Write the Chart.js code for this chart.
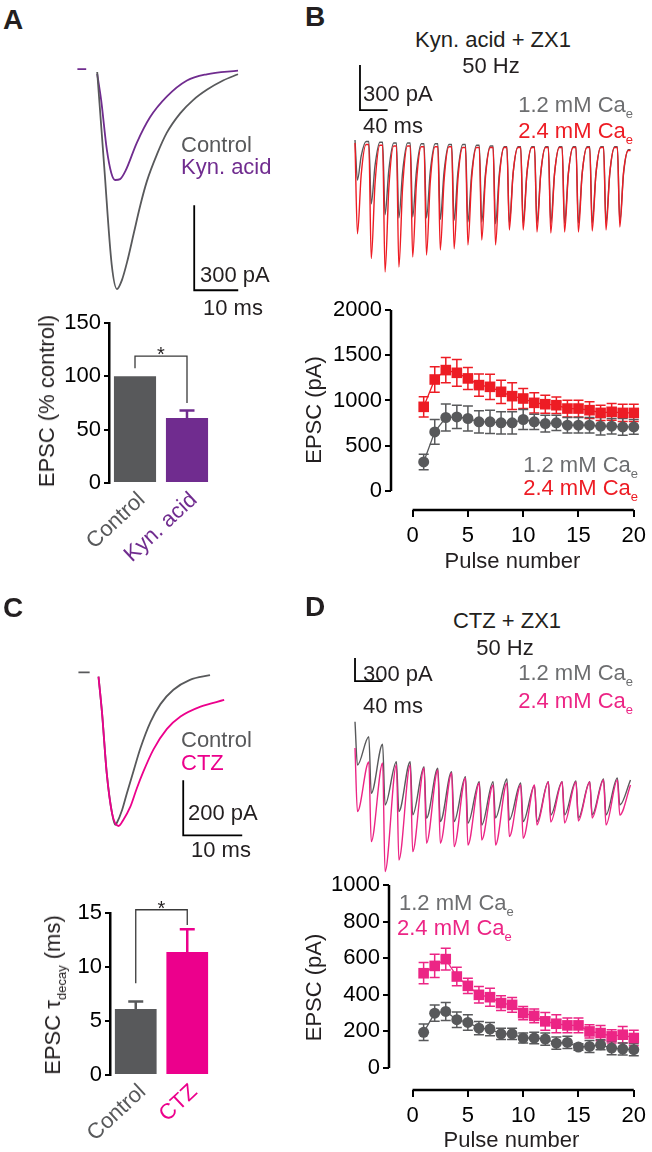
<!DOCTYPE html>
<html>
<head>
<meta charset="utf-8">
<script src="https://cdn.jsdelivr.net/npm/chart.js@4.4.1/dist/chart.umd.min.js"></script>
<style>
  body { margin: 0; width: 652px; height: 1152px; background: #fff; position: relative; overflow: hidden;
         font-family: "Liberation Sans", Arial, Helvetica, sans-serif; color: #231f20; }
  canvas { position: absolute; }
  .t { position: absolute; font-size: 22px; line-height: 22px; white-space: nowrap; }
  .big { font-size: 28px; line-height: 28px; font-weight: bold; }
  .c { transform: translateX(-50%); }
  .rot { position: absolute; font-size: 22px; line-height: 22px; white-space: nowrap; transform: translate(-50%, -50%) rotate(-90deg); }
  sub { font-size: 13px; vertical-align: -6px; line-height: 0; }
  .gray { color: #6d6e70; }
  .dk { color: #58595b; }
  .red { color: #ed1c24; }
  .pur { color: #702c8f; }
  .pink { color: #ec008c; }
  .pink2 { color: #ec2585; }
</style>
</head>
<body>

<canvas id="aTr" width="198" height="265" style="left:62px;top:55px"></canvas>
<canvas id="aBar" width="300" height="300" style="left:0px;top:300px"></canvas>
<canvas id="bTr" width="300" height="235" style="left:345px;top:55px"></canvas>
<canvas id="bPlot" width="352" height="290" style="left:300px;top:290px"></canvas>
<canvas id="cTr" width="177" height="182" style="left:69px;top:660px"></canvas>
<canvas id="cBar" width="300" height="272" style="left:0px;top:880px"></canvas>
<canvas id="dTr" width="300" height="230" style="left:345px;top:650px"></canvas>
<canvas id="dPlot" width="352" height="287" style="left:300px;top:865px"></canvas>

<!-- panel A -->
<div class="t big" style="left:3px;top:6px">A</div>
<div class="t dk" style="left:181px;top:134px">Control</div>
<div class="t pur" style="left:181px;top:156px">Kyn. acid</div>
<div class="t" style="left:200px;top:264px">300 pA</div>
<div class="t" style="left:203px;top:297px">10 ms</div>
<div class="rot" style="left:47px;top:401px">EPSC (% control)</div>

<!-- panel B -->
<div class="t big" style="left:305px;top:3px">B</div>
<div class="t c" style="left:493px;top:29px">Kyn. acid + ZX1</div>
<div class="t c" style="left:491px;top:55px">50 Hz</div>
<div class="t" style="left:363px;top:83px">300 pA</div>
<div class="t" style="left:363px;top:115px">40 ms</div>
<div class="t gray" style="right:19px;top:94px">1.2 mM Ca<sub>e</sub></div>
<div class="t red" style="right:19px;top:120px">2.4 mM Ca<sub>e</sub></div>
<div class="t gray" style="right:14px;top:454px">1.2 mM Ca<sub>e</sub></div>
<div class="t red" style="right:14px;top:477px">2.4 mM Ca<sub>e</sub></div>

<!-- panel C -->
<div class="t big" style="left:3px;top:594px">C</div>
<div class="t dk" style="left:181px;top:729px">Control</div>
<div class="t pink" style="left:181px;top:752px">CTZ</div>
<div class="t" style="left:188px;top:802px">200 pA</div>
<div class="t" style="left:191px;top:839px">10 ms</div>
<div class="rot" style="left:53px;top:995px">EPSC &tau;<sub>decay</sub> (ms)</div>

<!-- panel D -->
<div class="t big" style="left:305px;top:593px">D</div>
<div class="t c" style="left:507px;top:610px">CTZ + ZX1</div>
<div class="t c" style="left:505px;top:637px">50 Hz</div>
<div class="t" style="left:363px;top:663px">300 pA</div>
<div class="t" style="left:363px;top:695px">40 ms</div>
<div class="t gray" style="right:19px;top:662px">1.2 mM Ca<sub>e</sub></div>
<div class="t pink2" style="right:19px;top:690px">2.4 mM Ca<sub>e</sub></div>
<div class="t gray" style="left:399px;top:892px">1.2 mM Ca<sub>e</sub></div>
<div class="t pink2" style="left:397px;top:917px">2.4 mM Ca<sub>e</sub></div>

<script>
// ---- panel A : single EPSC traces (ms, pA) ----
const aCtrlT = [0, 1.6, 3.3, 4.5, 5.6, 6.8, 8.3, 9.8, 11.3, 13.6, 15.8, 18.9, 21.8, 25, 28.6, 32];
const aCtrlI = [0, -335, -680, -766, -735, -670, -570, -470, -385, -290, -215, -145, -99, -62, -30, -8];
const aKynT = [-4.5, -2.5, -2.4, 0, 0.9, 2.2, 3.2, 4.1, 5.2, 6.4, 9, 12, 15.8, 20.4, 24.9, 32];
const aKynI = [10, 10, null, -7, -99, -275, -356, -381, -378, -350, -250, -160, -87, -30, -8, 5];

// ---- panel A : bars ----
const aCats = ['Control', 'Kyn. acid'];
const aMean = [100, 61];
const aSem = [0, 7];
const aTicks = [0, 50, 100, 150];

// ---- panel B : 50 Hz trains, level before each pulse, trough, partial recovery (pA) ----
const bGrayPeak = [0, -10, -15, -20, -20, -25, -25, -30, -30, -35, -40, -45, -45, -45, -45, -45, -45, -45, -45, -45];
const bGrayTrough = [-267, -425, -498, -520, -513, -520, -529, -535, -547, -547, -558, -553, -553, -553, -553, -553, -553, -553, -553, -547];
const bGrayMid = [-105, -170, -200, -210, -205, -210, -212, -215, -220, -220, -225, -222, -222, -222, -222, -222, -222, -222, -222, -220];
const bGrayEnd = -65;
const bRedPeak = [-20, -30, -35, -40, -40, -45, -45, -45, -50, -50, -50, -50, -50, -50, -50, -50, -50, -50, -50, -50];
const bRedTrough = [-625, -791, -880, -847, -780, -767, -733, -725, -700, -667, -700, -600, -600, -613, -620, -613, -613, -607, -600, -580];
const bRedMid = [-230, -290, -320, -310, -285, -280, -270, -265, -255, -245, -255, -220, -220, -225, -225, -225, -225, -222, -220, -212];
const bRedEnd = -70;

// ---- panel B : EPSC vs pulse number ----
const pulses = [1, 2, 3, 4, 5, 6, 7, 8, 9, 10, 11, 12, 13, 14, 15, 16, 17, 18, 19, 20];
const pulseTicks = [0, 5, 10, 15, 20];
const bLow = [321, 653, 812, 819, 801, 764, 764, 753, 753, 790, 764, 745, 753, 727, 727, 727, 716, 716, 708, 708];
const bLowErr = [85, 137, 148, 129, 137, 122, 129, 122, 122, 111, 85, 92, 85, 85, 85, 85, 96, 85, 92, 81];
const bHigh = [930, 1232, 1336, 1306, 1244, 1170, 1151, 1096, 1048, 1022, 974, 959, 948, 911, 911, 893, 863, 875, 863, 863];
const bHighErr = [111, 140, 140, 148, 122, 122, 140, 129, 148, 111, 111, 100, 92, 92, 92, 92, 85, 92, 96, 96];
const bTicks = [0, 500, 1000, 1500, 2000];

// ---- panel C : traces ----
const cCtrlT = [-3.4, -1.5, -1.4, 0, 0.6, 1.4, 2.3, 2.85, 3.1, 4, 4.8, 5.9, 7.1, 8.8, 10.5, 12.7, 15.5, 18.9];
const cCtrlI = [15, 15, null, 0, -132, -351, -496, -538, -531, -484, -424, -345, -260, -165, -100, -48, -12, 5];
const cCtzT = [0, 0.6, 1.4, 2.3, 3.4, 4.2, 5.4, 6.5, 7.6, 9.3, 11.6, 13.9, 17.3, 21.3];
const cCtzI = [0, -132, -351, -496, -542, -520, -472, -405, -345, -265, -190, -145, -109, -85];

// ---- panel C : bars ----
const cCats = ['Control', 'CTZ'];
const cMean = [6.1, 11.4];
const cSem = [0.7, 2.1];
const cTicks = [0, 5, 10, 15];

// ---- panel D : trains ----
const dGrayPeak = [0, -196, -295, -522, -522, -587, -608, -652, -717, -782, -782, -747, -799, -834, -782, -782, -773, -782, -747, -734];
const dGrayTrough = [-565, -934, -1086, -1173, -1216, -1259, -1304, -1304, -1325, -1347, -1256, -1282, -1304, -1304, -1217, -1217, -1256, -1217, -1217, -1086];
const dGrayEnd = -760;
const dPinkPeak = [-343, -525, -538, -564, -564, -604, -630, -669, -734, -799, -825, -799, -825, -825, -786, -786, -786, -786, -760, -760];
const dPinkTrough = [-1173, -1565, -1956, -1804, -1695, -1585, -1585, -1630, -1608, -1543, -1608, -1499, -1521, -1347, -1308, -1321, -1295, -1256, -1347, -1217];
const dPinkEnd = -825;

// ---- panel D : EPSC vs pulse number ----
const dLow = [195, 300, 309, 264, 249, 218, 213, 187, 187, 164, 164, 158, 136, 140, 115, 118, 127, 109, 104, 100];
const dLowErr = [45, 45, 49, 42, 42, 36, 36, 31, 31, 27, 31, 33, 33, 33, 18, 33, 27, 36, 33, 33];
const dHigh = [518, 558, 595, 500, 449, 400, 387, 355, 345, 300, 285, 255, 242, 233, 233, 200, 191, 173, 182, 164];
const dHighErr = [58, 64, 60, 51, 42, 45, 49, 40, 40, 36, 38, 49, 49, 40, 40, 36, 42, 36, 45, 42];
const dTicks = [0, 200, 400, 600, 800, 1000];

const DARK = '#58595b';
const RED = '#ed1c24';
const PURPLE = '#702c8f';
const MAGENTA = '#ec008c';
const PINK = '#ec2585';
const FONT = '"Liberation Sans", Arial, Helvetica, sans-serif';

Chart.defaults.font.family = FONT;
Chart.defaults.font.size = 22;
Chart.defaults.color = '#231f20';
Chart.defaults.animation = false;
Chart.defaults.responsive = false;
Chart.defaults.plugins.legend.display = false;
Chart.defaults.plugins.tooltip.enabled = false;

const pts = (ts, is) => ts.map((t, i) => ({ x: t, y: is[i] }));
const plain = v => String(v);

const PERIOD = 20; // ms, 50 Hz
function train(peak, trough, mid, end) {
  const out = [];
  for (let i = 0; i < peak.length; i++) {
    const t0 = i * PERIOD;
    const next = i + 1 < peak.length ? peak[i + 1] : end;
    out.push({ x: t0, y: peak[i] }, { x: t0 + 3.5, y: trough[i] });
    if (mid) out.push({ x: t0 + 9, y: mid[i] }, { x: t0 + 16, y: next });
  }
  out.push({ x: 399, y: end });
  return out;
}

// L-shaped scale bar, placed in data units
const scaleBar = {
  id: 'scalebar',
  afterDraw(chart, args, o) {
    if (!o || o.t === undefined) return;
    const { ctx, scales: { x, y } } = chart;
    const x0 = x.getPixelForValue(o.t), x1 = x.getPixelForValue(o.t + o.dt);
    const y0 = y.getPixelForValue(o.i), y1 = y.getPixelForValue(o.i + o.di);
    ctx.save();
    ctx.strokeStyle = '#000';
    ctx.lineWidth = 1.8;
    ctx.beginPath();
    ctx.moveTo(x0, y1); ctx.lineTo(x0, y0); ctx.lineTo(x1, y0);
    ctx.stroke();
    ctx.restore();
  }
};

// mean +/- sem whiskers; "up" draws only the upper half (bars)
const errBars = {
  id: 'errbars',
  beforeDatasetsDraw(chart, args, o) {
    const { ctx } = chart;
    chart.data.datasets.forEach((ds, di) => {
      if (!ds.err) return;
      const meta = chart.getDatasetMeta(di);
      const ys = chart.scales[meta.yAxisID];
      meta.data.forEach((el, i) => {
        const e = ds.err[i];
        if (!e) return;
        const d = ds.data[i];
        const v = typeof d === 'object' ? d.y : d;
        const yTop = ys.getPixelForValue(v + e);
        const yBot = ys.getPixelForValue(o.up ? v : v - e);
        ctx.save();
        ctx.strokeStyle = Array.isArray(ds.errColor) ? ds.errColor[i] : ds.errColor;
        ctx.lineWidth = o.width;
        ctx.beginPath();
        ctx.moveTo(el.x, yBot); ctx.lineTo(el.x, yTop);
        ctx.moveTo(el.x - o.cap, yTop); ctx.lineTo(el.x + o.cap, yTop);
        if (!o.up) { ctx.moveTo(el.x - o.cap, yBot); ctx.lineTo(el.x + o.cap, yBot); }
        ctx.stroke();
        ctx.restore();
      });
    });
  }
};

const bracket = {
  id: 'bracket',
  afterDraw(chart, args, o) {
    const { ctx, scales: { x, y } } = chart;
    const xa = x.getPixelForValue(0), xb = x.getPixelForValue(1);
    const top = y.getPixelForValue(o.top);
    ctx.save();
    ctx.strokeStyle = '#3a3a3a';
    ctx.lineWidth = 1.3;
    ctx.beginPath();
    ctx.moveTo(xa, y.getPixelForValue(o.from));
    ctx.lineTo(xa, top); ctx.lineTo(xb, top);
    ctx.lineTo(xb, y.getPixelForValue(o.to));
    ctx.stroke();
    ctx.fillStyle = '#231f20';
    ctx.font = '20px ' + FONT;
    ctx.textAlign = 'center';
    ctx.textBaseline = 'alphabetic';
    ctx.fillText('*', (xa + xb) / 2, top + 5);
    ctx.restore();
  }
};

// axis lines that stop at the first and last tick
const axisLines = {
  id: 'axisLines',
  afterDraw(chart, args, o) {
    const { ctx, chartArea: a, scales: { x, y } } = chart;
    ctx.save();
    ctx.strokeStyle = '#000';
    ctx.lineWidth = 2.5;
    ctx.beginPath();
    ctx.moveTo(a.left, y.getPixelForValue(o.y[0])); ctx.lineTo(a.left, y.getPixelForValue(o.y[1]));
    ctx.moveTo(x.getPixelForValue(o.x[0]), a.bottom); ctx.lineTo(x.getPixelForValue(o.x[1]), a.bottom);
    ctx.stroke();
    ctx.restore();
  }
};

function traceChart(id, sets, xr, yr, bar) {
  return new Chart(document.getElementById(id), {
    type: 'line',
    data: {
      datasets: sets.map(s => ({
        data: s.data, borderColor: s.color, borderWidth: s.w, pointRadius: 0,
        cubicInterpolationMode: 'monotone', spanGaps: false, clip: false
      }))
    },
    options: {
      events: [],
      layout: { padding: 0 },
      scales: {
        x: { type: 'linear', display: false, min: xr[0], max: xr[1] },
        y: { type: 'linear', display: false, min: yr[0], max: yr[1] }
      },
      plugins: { scalebar: bar }
    },
    plugins: [scaleBar]
  });
}

function barChart(id, cats, mean, sem, cols, ticks, pad, yW, xH, br) {
  return new Chart(document.getElementById(id), {
    type: 'bar',
    data: {
      labels: cats,
      datasets: [{ data: mean, err: sem, errColor: cols, backgroundColor: cols, borderWidth: 0,
                   categoryPercentage: 1, barPercentage: 0.81 }]
    },
    options: {
      events: [],
      layout: { padding: pad },
      scales: {
        x: {
          grid: { display: false, drawTicks: false }, border: { display: false },
          afterFit: s => { s.height = xH; },
          ticks: { minRotation: 43, maxRotation: 43, padding: 4, labelOffset: 7, autoSkip: false,
                   color: c => cols[c.index] }
        },
        y: {
          min: ticks[0], max: ticks[ticks.length - 1],
          afterBuildTicks: a => { a.ticks = ticks.map(v => ({ value: v })); },
          afterFit: s => { s.width = yW; },
          grid: { drawOnChartArea: false, drawTicks: true, tickLength: 5, color: '#000', lineWidth: 2 },
          border: { display: true, color: '#000', width: 2.5 },
          ticks: { color: '#000', padding: 3, callback: plain }
        }
      },
      plugins: { errbars: { width: 2.5, cap: 7.5, up: true }, bracket: br }
    },
    plugins: [errBars, bracket]
  });
}

function pulseChart(id, low, lowErr, high, highErr, highCol, ticks, xMin, yMin, yW, xH, titlePad) {
  return new Chart(document.getElementById(id), {
    type: 'line',
    data: {
      labels: pulses,
      datasets: [
        { data: pulses.map((p, i) => ({ x: p, y: high[i] })), err: highErr, errColor: highCol,
          borderColor: highCol, borderWidth: 1.3, pointStyle: 'rect', pointRadius: 7.5,
          pointBackgroundColor: highCol, pointBorderWidth: 0, clip: false },
        { data: pulses.map((p, i) => ({ x: p, y: low[i] })), err: lowErr, errColor: DARK,
          borderColor: DARK, borderWidth: 1.3, pointStyle: 'circle', pointRadius: 5.5,
          pointBackgroundColor: DARK, pointBorderWidth: 0, clip: false }
      ]
    },
    options: {
      events: [],
      layout: { padding: { left: 0, top: 20, right: 14, bottom: 0 } },
      scales: {
        x: {
          type: 'linear', min: xMin, max: 20,
          afterBuildTicks: a => { a.ticks = pulseTicks.map(v => ({ value: v })); },
          afterFit: s => { s.height = xH; },
          grid: { drawOnChartArea: false, drawTicks: true, tickLength: 7, color: '#000', lineWidth: 2 },
          border: { display: false },
          ticks: { color: '#000', padding: 6, maxRotation: 0, autoSkip: false, callback: plain },
          title: { display: true, text: 'Pulse number', color: '#231f20',
                   font: { size: 22, lineHeight: 1 }, padding: { top: 0, bottom: titlePad } }
        },
        y: {
          type: 'linear', min: yMin, max: ticks[ticks.length - 1],
          afterBuildTicks: a => { a.ticks = ticks.map(v => ({ value: v })); },
          afterFit: s => { s.width = yW; },
          grid: { drawOnChartArea: false, drawTicks: true, tickLength: 6, color: '#000', lineWidth: 2 },
          border: { display: false },
          ticks: { color: '#000', padding: 3, callback: plain },
          title: { display: true, text: 'EPSC (pA)', color: '#231f20',
                   font: { size: 22, lineHeight: 1.2 }, padding: { top: 2, bottom: 0 } }
        }
      },
      plugins: {
        errbars: { width: 1.5, cap: 5, up: false },
        axisLines: { x: [pulseTicks[0], pulseTicks[pulseTicks.length - 1]], y: [ticks[0], ticks[ticks.length - 1]] }
      }
    },
    plugins: [errBars, axisLines]
  });
}

// A traces: 4.4 px/ms, 0.283 px/pA
traceChart('aTr', [
  { data: pts(aCtrlT, aCtrlI), color: DARK, w: 1.8 },
  { data: pts(aKynT, aKynI), color: PURPLE, w: 1.8 }
], [-8, 37], [-875, 60], { t: 22.05, dt: 10, i: -770, di: 300 });

barChart('aBar', aCats, aMean, aSem, [DARK, PURPLE], aTicks,
  { left: 0, top: 23, right: 87, bottom: 0 }, 109, 117,
  { from: 107.5, top: 119, to: 75 });

// B traces: 0.69 px/ms, 0.15 px/pA
traceChart('bTr', [
  { data: train(bRedPeak, bRedTrough, bRedMid, bRedEnd), color: RED, w: 1.4 },
  { data: train(bGrayPeak, bGrayTrough, bGrayMid, bGrayEnd), color: DARK, w: 1.4 }
], [-14.5, 420], [-1000, 567], { t: 7.2, dt: 40, i: 200, di: 300 });

pulseChart('bPlot', bLow, bLowErr, bHigh, bHighErr, RED, bTicks, -1.956, -210, 91, 70, 7);

// C traces: 5.9 px/ms, 0.275 px/pA
traceChart('cTr', [
  { data: pts(cCtzT, cCtzI), color: MAGENTA, w: 1.8 },
  { data: pts(cCtrlT, cCtrlI), color: DARK, w: 1.8 }
], [-5, 25], [-600, 60], { t: 14.36, dt: 10, i: -576, di: 200 });

barChart('cBar', cCats, cMean, cSem, [DARK, MAGENTA], cTicks,
  { left: 0, top: 33, right: 87, bottom: 0 }, 110, 77,
  { from: 8.5, top: 15.3, to: 13.9 });

// D traces: 0.69 px/ms, 0.0767 px/pA
traceChart('dTr', [
  { data: train(dPinkPeak, dPinkTrough, null, dPinkEnd), color: PINK, w: 1.4 },
  { data: train(dGrayPeak, dGrayTrough, null, dGrayEnd), color: DARK, w: 1.4 }
], [-14.5, 420], [-2065, 935], { t: 0, dt: 40, i: 530, di: 300 });

pulseChart('dPlot', dLow, dLowErr, dHigh, dHighErr, PINK, dTicks, -2.13, -120, 89, 62, 0);
</script>
</body>
</html>
